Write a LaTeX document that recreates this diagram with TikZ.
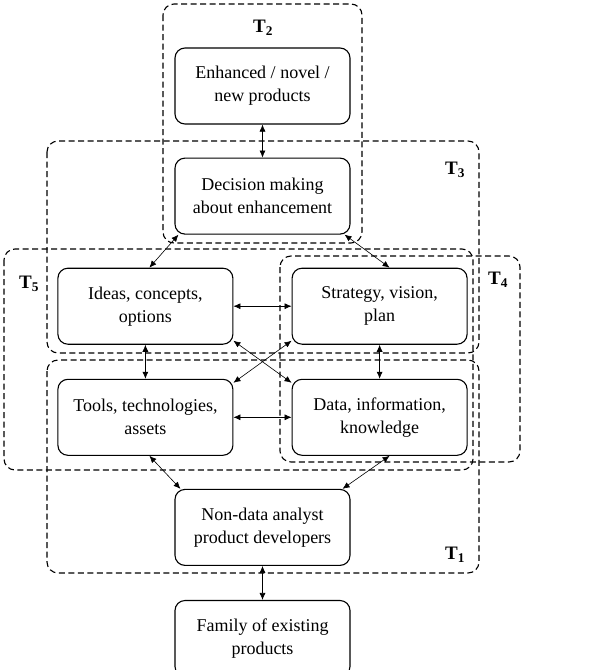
\documentclass[tikz,border=0pt]{standalone}
\usepackage{fontspec}
\setmainfont{Liberation Serif}
\usepackage{tikz}
\usetikzlibrary{positioning,arrows.meta}
\tikzset{
  card/.style={rounded corners=10pt, draw=black, line width=1.1pt, fill=white, align=center, minimum width=175pt, minimum height=76pt, inner sep=2pt, font=\fontsize{18}{23}\selectfont},
  group/.style={rounded corners=11pt, draw=black, line width=1.1pt, dash pattern=on 6pt off 3.5pt},
  tlabel/.style={font=\fontsize{19}{22}\selectfont\bfseries, inner sep=0pt},
  link/.style={{Latex[length=7pt,width=6pt]}-{Latex[length=7pt,width=6pt]}, line width=0.6pt}
}

\begin{document}
\begin{tikzpicture}[x=1pt, y=-1pt, node distance=33pt]
\useasboundingbox (0,0) rectangle (589,670);
% the product nodes
\node[card] (enh) at (262.5,86) {Enhanced / novel /\\new products};
\node[card, below=of enh] (dec) {Decision making\\about enhancement};
\node[card, below left=33pt and -59pt of dec] (ideas) {Ideas, concepts,\\options};
\node[card, below right=33pt and -59pt of dec] (strat) {Strategy, vision,\\plan};
\node[card, below=34pt of ideas] (tools) {Tools, technologies,\\assets};
\node[card, below=34pt of strat] (data) {Data, information,\\knowledge};
\node[card, below right=33pt and -59pt of tools] (dev) {Non-data analyst\\product developers};
\node[card, below=34pt of dev] (fam) {Family of existing\\products};

% dashed groupings
\draw[group] (163,4) rectangle (362,243);
\draw[group] (47,141) rectangle (479,353);
\draw[group] (47,360) rectangle (479,573);
\draw[group] (4,249) rectangle (473,470);
\draw[group] (280,256) rectangle (520,462);
\node[tlabel] (t2) at (263,28) {T\textsubscript{2}};
\node[tlabel] (t3) at (455,170) {T\textsubscript{3}};
\node[tlabel] (t5) at (29,284) {T\textsubscript{5}};
\node[tlabel] (t4) at (498,280) {T\textsubscript{4}};
\node[tlabel] (t1) at (455,555) {T\textsubscript{1}};

% links
\draw[link] (enh) -- (dec);
\draw[link] ([xshift=4pt]dec.south west) -- ([xshift=4pt]ideas.north);
\draw[link] ([xshift=-6pt]dec.south east) -- ([xshift=10pt]strat.north);
\draw[link] (ideas) -- (strat);
\draw[link] (ideas) -- (tools);
\draw[link] (strat) -- (data);
\draw[link] (tools) -- (data);
\draw[link] ([yshift=4pt]ideas.south east) -- ([yshift=-4pt]data.north west);
\draw[link] ([yshift=4pt]strat.south west) -- ([yshift=-4pt]tools.north east);
\draw[link] ([xshift=4pt]tools.south) -- ([xshift=6pt]dev.north west);
\draw[link] ([xshift=10pt]data.south) -- ([xshift=-8pt]dev.north east);
\draw[link] (dev) -- (fam);
\end{tikzpicture}
\end{document}
